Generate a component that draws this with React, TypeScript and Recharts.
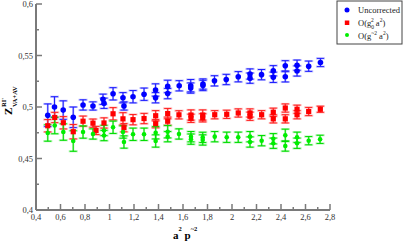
import React from 'react';
import { ScatterChart, Scatter, XAxis, YAxis, ErrorBar } from 'recharts';

// tick positions (major ones carry labels)
const xTicks = [0.4, 0.5, 0.6, 0.7, 0.8, 0.9, 1, 1.1, 1.2, 1.3, 1.4, 1.5, 1.6, 1.7, 1.8, 1.9, 2, 2.1, 2.2, 2.3, 2.4, 2.5, 2.6, 2.7, 2.8];
const yTicks = [0.4, 0.425, 0.45, 0.475, 0.5, 0.525, 0.55, 0.575, 0.6];

// Uncorrected
const blueX = [0.496, 0.551, 0.622, 0.704, 0.784, 0.865, 0.947, 0.955, 1.029, 1.11, 1.118, 1.192, 1.282, 1.376, 1.376, 1.475, 1.475, 1.569, 1.663, 1.663, 1.763, 1.763, 1.857, 1.953, 2.051, 2.147, 2.147, 2.241, 2.337, 2.337, 2.435, 2.435, 2.531, 2.531, 2.626, 2.722];
const blueY = [0.492, 0.5, 0.497, 0.49, 0.502, 0.501, 0.5075, 0.5036, 0.5128, 0.509, 0.501, 0.51, 0.5124, 0.5165, 0.509, 0.52, 0.513, 0.5206, 0.5207, 0.5184, 0.5223, 0.5209, 0.5254, 0.5267, 0.5294, 0.532, 0.528, 0.5314, 0.5352, 0.5288, 0.54, 0.5293, 0.5406, 0.535, 0.5396, 0.5432];
const blueErr = [0.011, 0.01, 0.009, 0.01, 0.005, 0.004, 0.005, 0.005, 0.006, 0.005, 0.004, 0.006, 0.006, 0.006, 0.005, 0.006, 0.005, 0.005, 0.006, 0.005, 0.005, 0.005, 0.005, 0.005, 0.005, 0.005, 0.005, 0.005, 0.005, 0.005, 0.005, 0.005, 0.005, 0.005, 0.005, 0.004];

// O(g0^2 a^2)
const redX = [0.496, 0.553, 0.623, 0.704, 0.784, 0.865, 0.89, 0.955, 1.029, 1.11, 1.118, 1.192, 1.282, 1.377, 1.377, 1.475, 1.475, 1.567, 1.665, 1.665, 1.761, 1.761, 1.859, 1.957, 2.051, 2.147, 2.147, 2.242, 2.337, 2.337, 2.435, 2.435, 2.531, 2.531, 2.626, 2.721];
const redY = [0.4818, 0.4898, 0.4847, 0.476, 0.4862, 0.4843, 0.4772, 0.4845, 0.4934, 0.4885, 0.4799, 0.4877, 0.4888, 0.4915, 0.4838, 0.4936, 0.4862, 0.4924, 0.4922, 0.489, 0.4922, 0.4895, 0.4925, 0.4929, 0.4942, 0.4942, 0.491, 0.4925, 0.4949, 0.4885, 0.499, 0.4885, 0.4978, 0.4925, 0.4956, 0.4978];
const redErr = [0.006, 0.005, 0.006, 0.007, 0.005, 0.004, 0.004, 0.005, 0.006, 0.006, 0.004, 0.005, 0.005, 0.005, 0.004, 0.005, 0.004, 0.004, 0.005, 0.004, 0.005, 0.004, 0.004, 0.004, 0.004, 0.004, 0.004, 0.004, 0.004, 0.004, 0.004, 0.004, 0.004, 0.004, 0.004, 0.003];

// O(g~^2 a^2)
const greenX = [0.496, 0.553, 0.623, 0.704, 0.784, 0.865, 0.955, 0.955, 1.029, 1.11, 1.118, 1.192, 1.282, 1.377, 1.377, 1.475, 1.475, 1.567, 1.665, 1.665, 1.761, 1.761, 1.859, 1.957, 2.051, 2.147, 2.147, 2.242, 2.337, 2.337, 2.435, 2.435, 2.531, 2.531, 2.626, 2.719];
const greenY = [0.4748, 0.482, 0.4757, 0.467, 0.4757, 0.4738, 0.4772, 0.4723, 0.4803, 0.4757, 0.466, 0.4735, 0.4735, 0.475, 0.467, 0.476, 0.4712, 0.4738, 0.4712, 0.4688, 0.4705, 0.468, 0.4712, 0.4706, 0.4706, 0.4712, 0.466, 0.4673, 0.4692, 0.4648, 0.4725, 0.4621, 0.4706, 0.4648, 0.4673, 0.4686];
const greenErr = [0.008, 0.008, 0.008, 0.01, 0.006, 0.005, 0.005, 0.005, 0.006, 0.006, 0.006, 0.006, 0.006, 0.006, 0.006, 0.006, 0.005, 0.005, 0.005, 0.005, 0.005, 0.005, 0.005, 0.005, 0.005, 0.005, 0.005, 0.005, 0.005, 0.005, 0.006, 0.005, 0.005, 0.005, 0.004, 0.004];

const build = (xs: number[], ys: number[], es: number[]) => xs.map((x, i) => ({ x, y: ys[i], err: es[i] }));

const FONT = '"Liberation Serif", "DejaVu Serif", serif';
const AXIS = '#7a7a7a';

const fmt = (v: number) => String(Number(v.toFixed(3))).replace('.', ',');

const BottomTick = (p: any) => {
  const v = p.payload.value;
  const major = Math.round(v * 10) % 2 === 0;
  return (
    <g>
      <line x1={p.x} y1={p.y} x2={p.x} y2={p.y - (major ? 6 : 3)} stroke={AXIS} strokeWidth={1.5} />
      {major && (
        <text x={p.x} y={p.y + 10} textAnchor="middle" fontSize={8.5} fontFamily={FONT} fill="#333">{fmt(v)}</text>
      )}
    </g>
  );
};

const TopTick = (p: any) => {
  const major = Math.round(p.payload.value * 10) % 2 === 0;
  return <line x1={p.x} y1={p.y} x2={p.x} y2={p.y + (major ? 6 : 3)} stroke={AXIS} strokeWidth={1.5} />;
};

const LeftTick = (p: any) => {
  const v = p.payload.value;
  const major = Math.round(v * 1000) % 50 === 0;
  return (
    <g>
      <line x1={p.x} y1={p.y} x2={p.x + (major ? 6 : 3)} y2={p.y} stroke={AXIS} strokeWidth={1.5} />
      {major && (
        <text x={p.x - 3} y={p.y + 3} textAnchor="end" fontSize={8.5} fontFamily={FONT} fill="#333">{fmt(v)}</text>
      )}
    </g>
  );
};

const RightTick = (p: any) => {
  const major = Math.round(p.payload.value * 1000) % 50 === 0;
  return <line x1={p.x} y1={p.y} x2={p.x - (major ? 6 : 3)} y2={p.y} stroke={AXIS} strokeWidth={1.5} />;
};

const dot = (color: string) => (p: any) => <circle cx={p.cx} cy={p.cy} r={2.8} fill={color} />;
const square = (color: string) => (p: any) => <rect x={p.cx - 2.6} y={p.cy - 2.6} width={5.2} height={5.2} fill={color} />;
const smallDot = (color: string) => (p: any) => <circle cx={p.cx} cy={p.cy} r={2.3} fill={color} />;

const App: React.FC = () => {
  const blue = build(blueX, blueY, blueErr);
  const red = build(redX, redY, redErr);
  const green = build(greenX, greenY, greenErr);

  return (
    <div style={{ position: 'absolute', left: 0, top: 0, width: 403, height: 241, background: '#fff' }}>
      <ScatterChart width={403} height={241} margin={{ top: 4, right: 73, bottom: 0, left: 0 }}>
        <XAxis dataKey="x" type="number" domain={[0.4, 2.8]} ticks={xTicks} interval={0} height={31}
          tickSize={0} tickMargin={0} tickLine={false} tick={BottomTick} axisLine={{ stroke: AXIS, strokeWidth: 2 }} allowDataOverflow />
        <XAxis xAxisId="t" orientation="top" type="number" domain={[0.4, 2.8]} ticks={xTicks} interval={0} height={0}
          tickSize={0} tickMargin={0} tickLine={false} tick={TopTick} axisLine={{ stroke: AXIS, strokeWidth: 2 }} />
        <YAxis dataKey="y" type="number" domain={[0.4, 0.6]} ticks={yTicks} interval={0} width={36}
          tickSize={0} tickMargin={0} tickLine={false} tick={LeftTick} axisLine={{ stroke: AXIS, strokeWidth: 2 }} allowDataOverflow />
        <YAxis yAxisId="r" orientation="right" type="number" domain={[0.4, 0.6]} ticks={yTicks} interval={0} width={0}
          tickSize={0} tickMargin={0} tickLine={false} tick={RightTick} axisLine={{ stroke: AXIS, strokeWidth: 2 }} />
        <Scatter name="Uncorrected" data={blue} shape={dot('#0000ff')} isAnimationActive={false}>
          <ErrorBar dataKey="err" direction="y" width={4.5} stroke="rgba(90,90,255,0.45)" strokeWidth={2} />
          <ErrorBar dataKey="err" direction="y" width={3.5} stroke="#2020ff" strokeWidth={1} />
        </Scatter>
        <Scatter name="O(g0^2 a^2)" data={red} shape={square('#ff0000')} isAnimationActive={false}>
          <ErrorBar dataKey="err" direction="y" width={4.5} stroke="rgba(255,90,90,0.45)" strokeWidth={2} />
          <ErrorBar dataKey="err" direction="y" width={3.5} stroke="#ff2020" strokeWidth={1} />
        </Scatter>
        <Scatter name="O(g~^2 a^2)" data={green} shape={smallDot('#00ee00')} isAnimationActive={false}>
          <ErrorBar dataKey="err" direction="y" width={4.5} stroke="rgba(60,230,60,0.45)" strokeWidth={2} />
          <ErrorBar dataKey="err" direction="y" width={3.5} stroke="#00dd00" strokeWidth={1} />
        </Scatter>
      </ScatterChart>

      <svg width={403} height={241} style={{ position: 'absolute', left: 0, top: 0, pointerEvents: 'none' }}>
        {/* y axis title, rotated */}
        <g transform="rotate(-90)" fontFamily={FONT} fill="#000">
          <text x={-115} y={12} fontSize={11} fontWeight="bold">Z</text>
          <text x={-107} y={6} fontSize={6.5} fontWeight="bold">RI'</text>
          <text x={-107} y={16.5} fontSize={6.5} fontWeight="bold">VA+AV</text>
        </g>
        {/* x axis title */}
        <text x={173} y={239} fontSize={11} fontFamily={FONT} fontWeight="bold" fill="#000">
          a<tspan fontSize={6.5} dy={-8}>2</tspan><tspan dy={8}> p</tspan><tspan fontSize={6.5} dy={-8}>~2</tspan>
        </text>
        {/* legend */}
        <rect x={337} y={1} width={65} height={43} fill="#fff" stroke="#444" strokeWidth={1} />
        <circle cx={347} cy={10} r={2.5} fill="#0000ff" />
        <rect x={344.8} y={20.5} width={4.5} height={4.5} fill="#ff0000" />
        <circle cx={347} cy={35} r={2} fill="#00ee00" />
        <g fontFamily={FONT} fontSize={8.5} fill="#222">
          <text x={358} y={13}>Uncorrected</text>
          <text x={358} y={26}>
            O(g<tspan fontSize={5.5} dy={2.5}>0</tspan><tspan fontSize={5.5} dx={-3} dy={-6.5}>2</tspan>
            <tspan dy={4}> a</tspan><tspan fontSize={5.5} dy={-4}>2</tspan><tspan dy={4}>)</tspan>
          </text>
          <text x={358} y={39}>
            O(g<tspan fontSize={5.5} dy={-4}>~2</tspan><tspan dy={4}> a</tspan><tspan fontSize={5.5} dy={-4}>2</tspan><tspan dy={4}>)</tspan>
          </text>
        </g>
      </svg>
    </div>
  );
};

export default App;
